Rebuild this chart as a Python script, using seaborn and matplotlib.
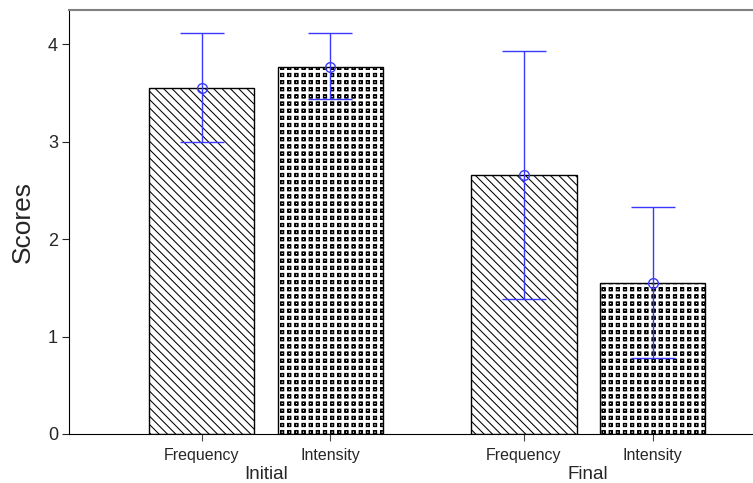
import matplotlib
matplotlib.use("Agg")
import matplotlib.pyplot as plt
import matplotlib.transforms as mtransforms
import matplotlib.hatch as mhatch
from matplotlib.path import Path
import seaborn as sns
import pandas as pd
import numpy as np

phases = ["Initial", "Initial", "Final", "Final"]
measures = ["Frequency", "Intensity", "Frequency", "Intensity"]
means = [3.55, 3.77, 2.66, 1.55]
lower = [3.00, 3.44, 1.39, 0.78]
upper = [4.11, 4.11, 3.93, 2.33]

phase_order = ["Initial", "Final"]
measure_order = ["Frequency", "Intensity"]
hatches = {"Frequency": "\\\\\\\\", "Intensity": "o"}


# hollow-square grid hatch, registered in place of the small-circle hatch 'o'
class HollowSquares(mhatch.HatchPatternBase):
    def __init__(self, hatch, density):
        self.n = hatch.count("o") * 14
        self.num_vertices = self.n * self.n * 10

    def set_vertices_and_codes(self, vertices, codes):
        n = self.n
        step = 1.0 / n
        ho, hi = 0.016, 0.0115
        outer = np.array([[-ho, -ho], [ho, -ho], [ho, ho], [-ho, ho], [-ho, -ho]])
        inner = np.array([[-hi, -hi], [-hi, hi], [hi, hi], [hi, -hi], [-hi, -hi]])
        cell = np.vstack([outer, inner])
        cc = np.array([Path.MOVETO, Path.LINETO, Path.LINETO, Path.LINETO, Path.CLOSEPOLY] * 2)
        k = 0
        for r in range(n):
            for c in range(n):
                cx = (c + 0.5) * step
                cy = (r + 0.5) * step
                vertices[k:k + 10] = cell + [cx, cy]
                codes[k:k + 10] = cc
                k += 10


mhatch._hatch_types = [t for t in mhatch._hatch_types if t is not mhatch.SmallCircles] + [HollowSquares]

df = pd.DataFrame({"Phase": phases, "Measure": measures, "Score": means,
                   "Lower": lower, "Upper": upper})

sns.set_style("ticks")
plt.rcParams["font.family"] = ["Liberation Sans", "DejaVu Sans"]
plt.rcParams["hatch.color"] = "#4a4a4a"
plt.rcParams["hatch.linewidth"] = 0.75

fig = plt.figure(figsize=(7.53, 4.83), dpi=100)
ax = fig.add_axes([69 / 753, 1 - 434 / 483, 1 - 69 / 753, (434 - 10) / 483])

sns.barplot(data=df, x="Phase", y="Score", hue="Measure", order=phase_order,
            hue_order=measure_order, errorbar=None, gap=0.18, width=0.8,
            palette=["white", "white"], edgecolor="black",
            linewidth=1.0, legend=False, ax=ax)

centers = []
labels = []
for measure, cont in zip(measure_order, ax.containers):
    for phase, bar in zip(phase_order, cont):
        bar.set_hatch(hatches[measure])
        bar.set_edgecolor("black")
        cx = bar.get_x() + bar.get_width() / 2
        row = df[(df.Phase == phase) & (df.Measure == measure)].iloc[0]
        ax.errorbar([cx], [row.Score],
                    yerr=[[row.Score - row.Lower], [row.Upper - row.Score]],
                    fmt="o", mfc="none", mec="#3a3aff", ms=7, mew=1,
                    ecolor="#3a3aff", elinewidth=1, capsize=16, capthick=1.2,
                    zorder=5)
        centers.append(cx)
        labels.append(measure)

ax.set_xticks(centers)
ax.set_xticklabels(labels, fontsize=11.5)
ax.tick_params(axis="x", length=5, color="#444444", pad=5)
ax.tick_params(axis="y", length=5, labelsize=13, pad=3)

trans = mtransforms.blended_transform_factory(ax.transData, ax.transAxes)
for i, ph in enumerate(phase_order):
    ax.text(i, -0.095, ph, transform=trans, ha="center", va="center",
            fontsize=13.5)

ax.set_xlim(-0.612, 1.512)
ax.set_ylim(0, 4.35)
ax.set_yticks([0, 1, 2, 3, 4])
ax.set_xlabel("")
ax.set_ylabel("Scores", fontsize=19, labelpad=9)

ax.spines["top"].set_color("#808080")
ax.spines["top"].set_linewidth(1.5)
ax.spines["right"].set_visible(False)
ax.spines["left"].set_color("black")
ax.spines["bottom"].set_color("black")

fig.savefig("out.png", dpi=100)
